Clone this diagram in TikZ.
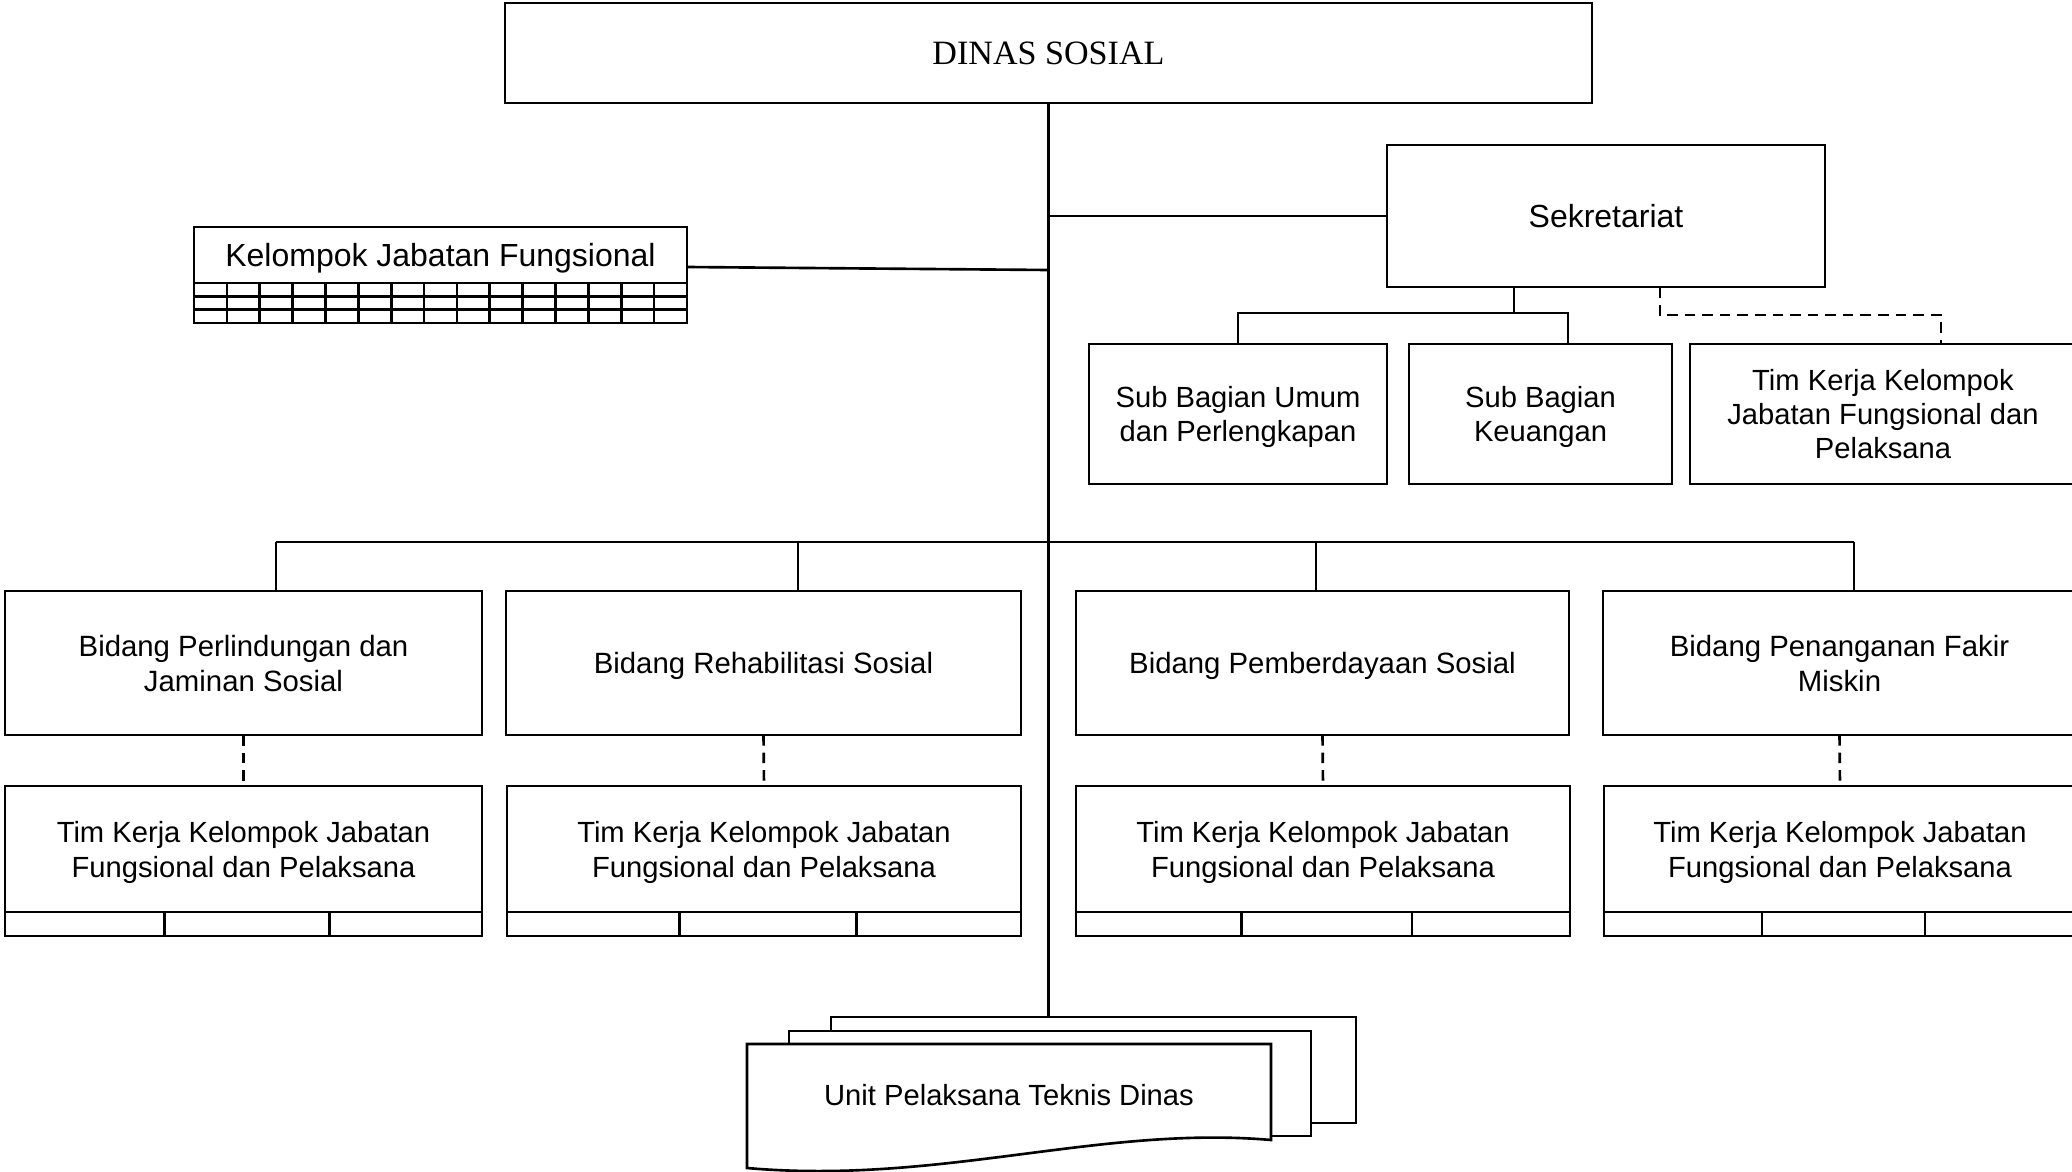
\documentclass[tikz,border=0pt]{standalone}
\usepackage{fontspec}
\setmainfont{Liberation Sans}
\newfontfamily\dinasfont{Liberation Serif}
\usetikzlibrary{calc}

\begin{document}
\begin{tikzpicture}[
  unit/.style = {
    shape = rectangle,
    draw = black,
    fill = white,
    align = center,
    inner sep = 0pt,
    outer sep = 0pt,
    text depth = 0pt,
    font = \fontsize{8.3}{9.9}\selectfont
  },
  bidang/.style = {
    unit,
    minimum height = 1.44cm,
    font = \fontsize{8.35}{10}\selectfont
  },
  timkerja/.style = {
    unit,
    minimum height = 1.26cm,
    font = \fontsize{8.3}{10}\selectfont
  },
  staff/.style = {
    dash pattern = on 3pt off 2pt
  },
  every path/.style = {
    line width = 0.75pt
  }
]
  \useasboundingbox (0, 0) rectangle (20.72, -11.72);

  \node[unit, minimum width = 10.87cm, minimum height = 1cm, font = \dinasfont\fontsize{9.7}{11}\selectfont] (dinas) at (10.485, -0.53) {DINAS SOSIAL};

  \node[unit, minimum width = 4.38cm, minimum height = 1.42cm, font = \fontsize{9.1}{10}\selectfont] (sek) at (16.06, -2.16) {Sekretariat};
  \node[unit, minimum width = 4.93cm, minimum height = 0.56cm, font = \fontsize{9.1}{10}\selectfont] (kjf) at (4.405, -2.55) {Kelompok Jabatan Fungsional};

  \node[unit, minimum width = 2.98cm, minimum height = 1.40cm] (subumum) at (12.38, -4.14) {Sub Bagian Umum\\dan Perlengkapan};
  \node[unit, minimum width = 2.63cm, minimum height = 1.40cm] (subkeu) at (15.405, -4.14) {Sub Bagian\\Keuangan};
  \node[unit, minimum width = 3.86cm, minimum height = 1.40cm, font = \fontsize{8.3}{9.6}\selectfont] (timsek) at (18.83, -4.14) {Tim Kerja Kelompok\\Jabatan Fungsional dan\\Pelaksana};

  \node[bidang, minimum width = 4.77cm] (b1) at (2.435, -6.63) {Bidang Perlindungan dan\\Jaminan Sosial};
  \node[bidang, minimum width = 5.15cm] (b2) at (7.635, -6.63) {Bidang Rehabilitasi Sosial};
  \node[bidang, minimum width = 4.93cm] (b3) at (13.225, -6.63) {Bidang Pemberdayaan Sosial};
  \node[bidang, minimum width = 4.73cm] (b4) at (18.395, -6.63) {Bidang Penanganan Fakir\\Miskin};

  \node[timkerja, minimum width = 4.77cm] (t1) at (2.435, -8.49) {Tim Kerja Kelompok Jabatan\\Fungsional dan Pelaksana};
  \node[timkerja, minimum width = 5.14cm] (t2) at (7.64, -8.49) {Tim Kerja Kelompok Jabatan\\Fungsional dan Pelaksana};
  \node[timkerja, minimum width = 4.94cm] (t3) at (13.23, -8.49) {Tim Kerja Kelompok Jabatan\\Fungsional dan Pelaksana};
  \node[timkerja, minimum width = 4.72cm] (t4) at (18.40, -8.49) {Tim Kerja Kelompok Jabatan\\Fungsional dan Pelaksana};

  \draw (kjf.south west) rectangle ([yshift = -0.40cm]kjf.south east);
  \foreach \k in {1,...,14}
    \draw ($(kjf.south west)!\k/15!(kjf.south east)$) -- ++(0, -0.40);
  \foreach \r in {0.133, 0.267}
    \draw ([yshift = -\r cm]kjf.south west) -- ([yshift = -\r cm]kjf.south east);

  \foreach \t in {t1, t2, t3, t4} {
    \draw (\t.south west) rectangle ([yshift = -0.24cm]\t.south east);
    \draw ($(\t.south west)!0.335!(\t.south east)$) -- ++(0, -0.24);
    \draw ($(\t.south west)!0.68!(\t.south east)$) -- ++(0, -0.24);
  }

  \node[unit, minimum width = 5.25cm, minimum height = 1.06cm] (back) at (10.935, -10.70) {};
  \node[unit, minimum width = 5.22cm, minimum height = 1.05cm] (middle) at (10.50, -10.835) {};
  \draw[fill = white] (7.47, -10.44) -- (12.71, -10.44) -- (12.71, -11.40)
    .. controls (11.0, -11.25) and (9.4, -11.85) .. (7.47, -11.68) -- cycle;
  \node[font = \fontsize{8.3}{9.9}\selectfont, inner sep = 0pt] (uptd) at (10.09, -10.95) {Unit Pelaksana Teknis Dinas};

  \draw (dinas.south) -- (dinas.south |- back.north);
  \draw (dinas.south |- sek.west) -- (sek.west);
  \coordinate (kjfjoin) at (10.485, -2.70);
  \draw ([yshift = -0.12cm]kjf.east) -- (kjfjoin);

  \coordinate (sekbar) at (15.14, -3.13);
  \coordinate (keuline) at (15.68, -3.13);
  \draw (sekbar |- sek.south) -- (sekbar);
  \draw (subumum.north) |- (keuline) -- (keuline |- subkeu.north);

  \coordinate (sekstaff) at (16.60, -3.15);
  \coordinate (timsekline) at (19.41, -3.15);
  \draw[staff] (sekstaff |- sek.south) -- (sekstaff) -- (timsekline) -- (timsekline |- timsek.north);

  \foreach \b/\x in {b1/2.76, b2/7.98, b3/13.16, b4/18.54} {
    \coordinate (bar\b) at (\x, -5.42);
    \draw (bar\b) -- (bar\b |- \b.north);
  }
  \draw (barb1) -- (barb4);

  \foreach \b/\t in {b1/t1, b2/t2, b3/t3, b4/t4}
    \draw[staff] (\b.south) -- (\t.north);
\end{tikzpicture}
\end{document}
